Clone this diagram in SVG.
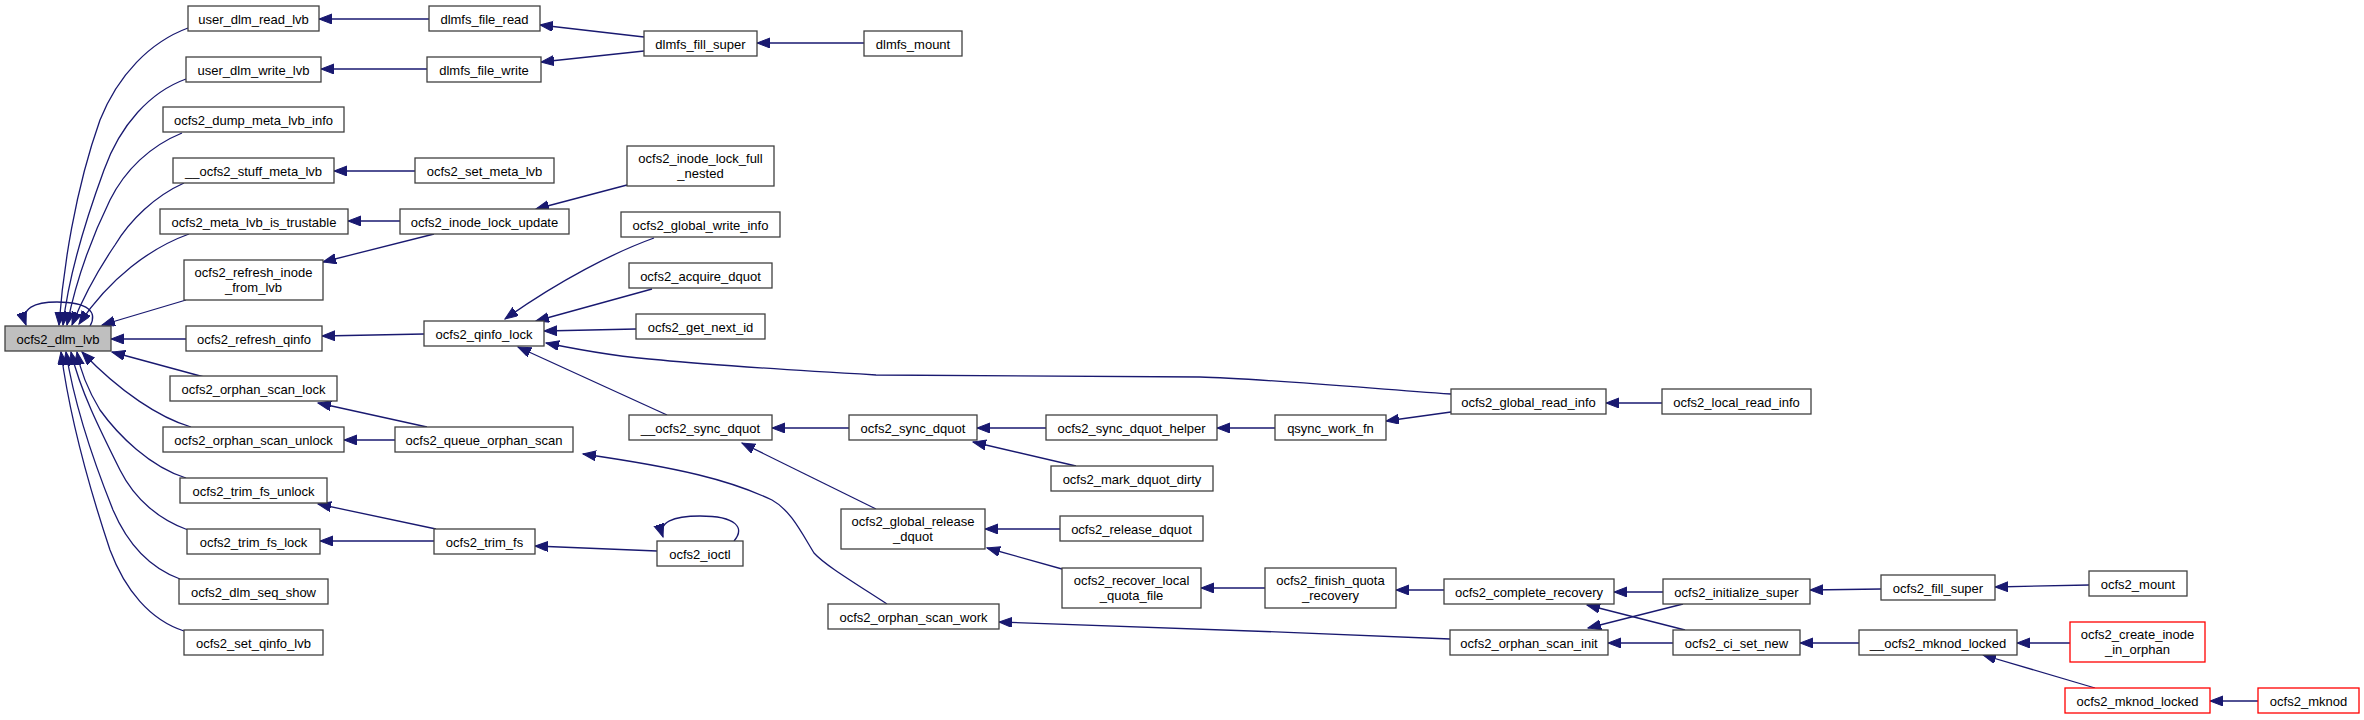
<svg xmlns="http://www.w3.org/2000/svg" width="2364" height="720" viewBox="0 0 2364 720">
<style>
.n rect{fill:#ffffff;stroke:#404040;stroke-width:1.3}
.n.root rect{fill:#bfbfbf}
.n.red rect{stroke:#ff0000}
.n text{font-family:"Liberation Sans",Arial,sans-serif;font-size:13px;fill:#000;text-anchor:middle}
#edges path{fill:none;stroke:#191970;stroke-width:1.3;marker-end:url(#a)}
</style>
<defs>
<marker id="a" markerWidth="15" markerHeight="12" refX="13" refY="5" orient="auto" markerUnits="userSpaceOnUse"><path d="M0,0 L13,5 L0,10 z" fill="#191970" stroke="#191970" stroke-width="1"/></marker>
</defs>
<rect width="2364" height="720" fill="#ffffff"/>
<g id="edges">
<path d="M188,28 C150,42 118,75 100,120 C75,190 63,270 59,325"/>
<path d="M186,79 C150,92 120,125 104,170 C82,230 68,280 63,325"/>
<path d="M182,133 C150,146 125,170 110,200 C88,245 75,285 67,325"/>
<path d="M184,183 C155,196 130,220 115,245 C98,270 82,300 72,325"/>
<path d="M189,234 C150,248 110,278 79,324"/>
<path d="M186,300 L102,325"/>
<path d="M186,339 L111,339"/>
<path d="M204,377 L112,352"/>
<path d="M191,427 C160,418 120,392 82,352"/>
<path d="M186,478 C150,467 118,435 100,410 C88,390 80,370 77,352"/>
<path d="M188,530 C160,520 135,500 120,470 C100,430 80,390 71,352"/>
<path d="M180,579 C150,568 128,545 113,510 C95,465 75,410 66,352"/>
<path d="M184,631 C150,620 125,590 110,550 C90,490 70,420 61,352"/>
<path d="M90,326 C98,312 88,302 57,302 C35,302 20,308 26,325"/>
<path d="M429,19 L319,19"/>
<path d="M427,69 L321,69"/>
<path d="M644,37 L540,25"/>
<path d="M644,51 L541,62"/>
<path d="M864,43 L757,43"/>
<path d="M415,171 L334,171"/>
<path d="M400,221 L348,221"/>
<path d="M434,234 L323,262"/>
<path d="M627,185 L536,209"/>
<path d="M424,334 L322,336"/>
<path d="M654,238 C615,252 560,280 505,319"/>
<path d="M652,289 L536,321"/>
<path d="M636,329 L544,331"/>
<path d="M667,415 L518,347"/>
<path d="M1451,394 C1330,385 1250,378 1200,377 C1050,376 930,376 876,375 C790,370 700,364 661,360 C630,358 590,352 546,343"/>
<path d="M427,427 L318,403"/>
<path d="M395,440 L344,440"/>
<path d="M887,604 C850,580 825,565 814,553 C800,530 790,510 772,500 C730,480 680,468 583,454"/>
<path d="M436,529 L318,504"/>
<path d="M434,541 L320,541"/>
<path d="M657,551 L535,546"/>
<path d="M734,541 C745,528 737,516 700,516 C673,516 658,522 663,537"/>
<path d="M849,428 L772,428"/>
<path d="M876,509 L742,443"/>
<path d="M1046,428 L977,428"/>
<path d="M1076,466 L973,442"/>
<path d="M1275,428 L1217,428"/>
<path d="M1451,412 L1386,421"/>
<path d="M1662,403 L1606,403"/>
<path d="M1060,529 L985,529"/>
<path d="M1062,569 L987,548"/>
<path d="M1265,588 L1201,588"/>
<path d="M1444,590 L1396,590"/>
<path d="M1663,592 L1614,592"/>
<path d="M1685,630 L1587,605"/>
<path d="M1683,604 L1588,628"/>
<path d="M1673,643 L1608,643"/>
<path d="M1450,639 C1300,632 1100,626 999,622"/>
<path d="M1881,589 L1810,590"/>
<path d="M2089,585 L1995,587"/>
<path d="M1859,643 L1800,643"/>
<path d="M2070,643 L2017,643"/>
<path d="M2095,688 L1983,655"/>
<path d="M2258,701 L2210,701"/>
</g>
<g id="n1" class="n root"><rect x="5" y="326" width="106" height="25"/><text x="58" y="343.5">ocfs2_dlm_lvb</text></g>
<g id="n2" class="n"><rect x="188" y="6" width="131" height="25"/><text x="253.5" y="23.5">user_dlm_read_lvb</text></g>
<g id="n3" class="n"><rect x="186" y="57" width="135" height="25"/><text x="253.5" y="74.5">user_dlm_write_lvb</text></g>
<g id="n4" class="n"><rect x="163" y="107" width="181" height="25"/><text x="253.5" y="124.5">ocfs2_dump_meta_lvb_info</text></g>
<g id="n5" class="n"><rect x="173" y="158" width="161" height="25"/><text x="253.5" y="175.5">__ocfs2_stuff_meta_lvb</text></g>
<g id="n6" class="n"><rect x="160" y="209" width="188" height="25"/><text x="254" y="226.5">ocfs2_meta_lvb_is_trustable</text></g>
<g id="n7" class="n"><rect x="184" y="260" width="139" height="40"/><text x="253.5" y="276.5">ocfs2_refresh_inode</text><text x="253.5" y="291.5">_from_lvb</text></g>
<g id="n8" class="n"><rect x="186" y="326" width="136" height="25"/><text x="254" y="343.5">ocfs2_refresh_qinfo</text></g>
<g id="n9" class="n"><rect x="170" y="376" width="167" height="25"/><text x="253.5" y="393.5">ocfs2_orphan_scan_lock</text></g>
<g id="n10" class="n"><rect x="163" y="427" width="181" height="25"/><text x="253.5" y="444.5">ocfs2_orphan_scan_unlock</text></g>
<g id="n11" class="n"><rect x="180" y="478" width="147" height="25"/><text x="253.5" y="495.5">ocfs2_trim_fs_unlock</text></g>
<g id="n12" class="n"><rect x="187" y="529" width="133" height="25"/><text x="253.5" y="546.5">ocfs2_trim_fs_lock</text></g>
<g id="n13" class="n"><rect x="179" y="579" width="149" height="25"/><text x="253.5" y="596.5">ocfs2_dlm_seq_show</text></g>
<g id="n14" class="n"><rect x="184" y="630" width="139" height="25"/><text x="253.5" y="647.5">ocfs2_set_qinfo_lvb</text></g>
<g id="n15" class="n"><rect x="429" y="6" width="111" height="25"/><text x="484.5" y="23.5">dlmfs_file_read</text></g>
<g id="n16" class="n"><rect x="427" y="57" width="114" height="25"/><text x="484" y="74.5">dlmfs_file_write</text></g>
<g id="n17" class="n"><rect x="415" y="158" width="139" height="25"/><text x="484.5" y="175.5">ocfs2_set_meta_lvb</text></g>
<g id="n18" class="n"><rect x="400" y="209" width="169" height="25"/><text x="484.5" y="226.5">ocfs2_inode_lock_update</text></g>
<g id="n19" class="n"><rect x="424" y="321" width="120" height="25"/><text x="484" y="338.5">ocfs2_qinfo_lock</text></g>
<g id="n20" class="n"><rect x="395" y="427" width="178" height="25"/><text x="484" y="444.5">ocfs2_queue_orphan_scan</text></g>
<g id="n21" class="n"><rect x="434" y="529" width="101" height="25"/><text x="484.5" y="546.5">ocfs2_trim_fs</text></g>
<g id="n22" class="n"><rect x="644" y="31" width="113" height="25"/><text x="700.5" y="48.5">dlmfs_fill_super</text></g>
<g id="n23" class="n"><rect x="864" y="31" width="98" height="25"/><text x="913" y="48.5">dlmfs_mount</text></g>
<g id="n24" class="n"><rect x="627" y="146" width="147" height="40"/><text x="700.5" y="162.5">ocfs2_inode_lock_full</text><text x="700.5" y="177.5">_nested</text></g>
<g id="n25" class="n"><rect x="621" y="212" width="159" height="25"/><text x="700.5" y="229.5">ocfs2_global_write_info</text></g>
<g id="n26" class="n"><rect x="629" y="263" width="143" height="25"/><text x="700.5" y="280.5">ocfs2_acquire_dquot</text></g>
<g id="n27" class="n"><rect x="636" y="314" width="129" height="25"/><text x="700.5" y="331.5">ocfs2_get_next_id</text></g>
<g id="n28" class="n"><rect x="629" y="415" width="143" height="25"/><text x="700.5" y="432.5">__ocfs2_sync_dquot</text></g>
<g id="n29" class="n"><rect x="657" y="541" width="86" height="25"/><text x="700" y="558.5">ocfs2_ioctl</text></g>
<g id="n30" class="n"><rect x="828" y="604" width="171" height="25"/><text x="913.5" y="621.5">ocfs2_orphan_scan_work</text></g>
<g id="n31" class="n"><rect x="849" y="415" width="128" height="25"/><text x="913" y="432.5">ocfs2_sync_dquot</text></g>
<g id="n32" class="n"><rect x="841" y="509" width="144" height="40"/><text x="913" y="525.5">ocfs2_global_release</text><text x="913" y="540.5">_dquot</text></g>
<g id="n33" class="n"><rect x="1046" y="415" width="171" height="25"/><text x="1131.5" y="432.5">ocfs2_sync_dquot_helper</text></g>
<g id="n34" class="n"><rect x="1051" y="466" width="162" height="25"/><text x="1132" y="483.5">ocfs2_mark_dquot_dirty</text></g>
<g id="n35" class="n"><rect x="1060" y="516" width="143" height="25"/><text x="1131.5" y="533.5">ocfs2_release_dquot</text></g>
<g id="n36" class="n"><rect x="1062" y="568" width="139" height="40"/><text x="1131.5" y="584.5">ocfs2_recover_local</text><text x="1131.5" y="599.5">_quota_file</text></g>
<g id="n37" class="n"><rect x="1275" y="415" width="111" height="25"/><text x="1330.5" y="432.5">qsync_work_fn</text></g>
<g id="n38" class="n"><rect x="1265" y="568" width="131" height="40"/><text x="1330.5" y="584.5">ocfs2_finish_quota</text><text x="1330.5" y="599.5">_recovery</text></g>
<g id="n39" class="n"><rect x="1451" y="389" width="155" height="25"/><text x="1528.5" y="406.5">ocfs2_global_read_info</text></g>
<g id="n40" class="n"><rect x="1444" y="579" width="170" height="25"/><text x="1529" y="596.5">ocfs2_complete_recovery</text></g>
<g id="n41" class="n"><rect x="1450" y="630" width="158" height="25"/><text x="1529" y="647.5">ocfs2_orphan_scan_init</text></g>
<g id="n42" class="n"><rect x="1662" y="389" width="149" height="25"/><text x="1736.5" y="406.5">ocfs2_local_read_info</text></g>
<g id="n43" class="n"><rect x="1663" y="579" width="147" height="25"/><text x="1736.5" y="596.5">ocfs2_initialize_super</text></g>
<g id="n44" class="n"><rect x="1673" y="630" width="127" height="25"/><text x="1736.5" y="647.5">ocfs2_ci_set_new</text></g>
<g id="n45" class="n"><rect x="1881" y="575" width="114" height="25"/><text x="1938" y="592.5">ocfs2_fill_super</text></g>
<g id="n46" class="n"><rect x="1859" y="630" width="158" height="25"/><text x="1938" y="647.5">__ocfs2_mknod_locked</text></g>
<g id="n47" class="n"><rect x="2089" y="571" width="98" height="25"/><text x="2138" y="588.5">ocfs2_mount</text></g>
<g id="n48" class="n red"><rect x="2070" y="622" width="135" height="40"/><text x="2137.5" y="638.5">ocfs2_create_inode</text><text x="2137.5" y="653.5">_in_orphan</text></g>
<g id="n49" class="n red"><rect x="2065" y="688" width="145" height="25"/><text x="2137.5" y="705.5">ocfs2_mknod_locked</text></g>
<g id="n50" class="n red"><rect x="2258" y="688" width="101" height="25"/><text x="2308.5" y="705.5">ocfs2_mknod</text></g>
</svg>
